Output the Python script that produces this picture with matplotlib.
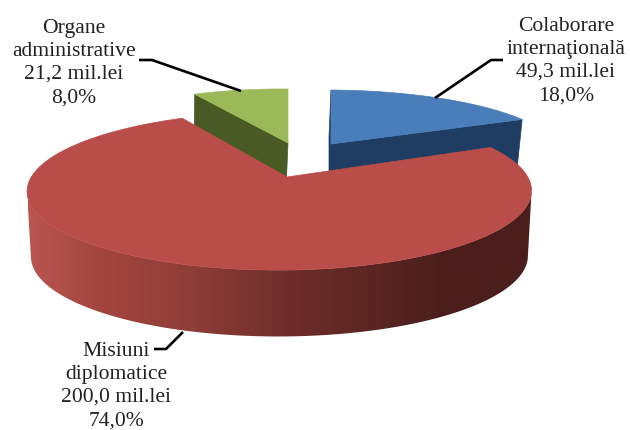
import numpy as np
import matplotlib
matplotlib.use("Agg")
import matplotlib.pyplot as plt
from matplotlib.colors import LinearSegmentedColormap
from matplotlib.patches import Polygon

# --- data ---
categories = ["Colaborare\ninternaţională", "Misiuni\ndiplomatice", "Organe\nadministrative"]
amounts = ["49,3", "200,0", "21,2"]
percents = [18.0, 74.0, 8.0]

# --- style / projection ---
top_colors = ["#4a7ebb", "#b94d49", "#9bb958"]
wall_colors = ["#1f3d63", "#8a3a36", "#4a5a25"]
# apex x, apex y, Rx, Ry, depth, bottom scale, bottom apex dx
proj = [
    (331, 144, 233, 63.6, 47, 0.985, -2),
    (287, 177, 248, 76.5, 65, 0.985, 0),
    (288, 143, 221, 63.6, 47, 0.985, -2),
]
K, M = 0.178, 0.03
BOTTOM_RY = 1.03
red_wall = LinearSegmentedColormap.from_list(
    "w", [(0, "#ba5550"), (0.14, "#a4463f"), (0.34, "#8c3c36"), (0.52, "#6e2d2a"),
          (0.74, "#552321"), (0.82, "#4b1e1c"), (1, "#4b1e1c")])

fig = plt.figure(figsize=(6.3, 4.3), dpi=100, facecolor="white")
ax = fig.add_axes([0, 0, 1, 1])


def project(theta, p, bottom=False):
    cx, cy, rx, ry, d, s, dx = p
    u, v = np.sin(theta), np.cos(theta)
    f = 1.0 / (1 + K * v + M * u)
    if bottom:
        return cx + dx + s * rx * u * f, cy + d - BOTTOM_RY * s * ry * v * f
    return cx + rx * u * f, cy - ry * v * f


edges = np.concatenate([[0], np.cumsum(percents)]) / sum(percents) * 2 * np.pi
order = [0, 2, 1]
for i in order:
    p = proj[i]
    a0, a1 = edges[i], edges[i + 1]
    th = np.linspace(a0, a1, 361)
    apex_t = (p[0], p[1])
    apex_b = (p[0] + p[6], p[1] + p[4])
    if i == 0:
        ax.add_patch(Polygon([apex_t, project(a1, p), project(a1, p, True), apex_b],
                             fc=wall_colors[i], ec=wall_colors[i], lw=0.5))
        ax.add_patch(Polygon([project(a0, p), apex_t, apex_b, project(a0, p, True)],
                             fc=wall_colors[i], ec=wall_colors[i], lw=0.5))
    if i == 2:
        ax.add_patch(Polygon([apex_t, project(a0, p), project(a0, p, True), apex_b],
                             fc=wall_colors[i], ec=wall_colors[i], lw=0.5))
    if i == 1:
        # front part of the rim only: between the outermost points of the top arc
        xs = np.array([project(t, p)[0] for t in th])
        front = th[int(np.argmax(xs)):int(np.argmin(xs)) + 1]
        ring = [project(t, p) for t in front] + [project(t, p, True) for t in front[::-1]]
        wall = Polygon(ring, fc="none", ec="none", transform=ax.transData)
        ax.add_patch(wall)
        im = ax.imshow(np.linspace(0, 1, 512)[None, :], cmap=red_wall, aspect="auto",
                       extent=(28, 532, 345, 100), zorder=1.0, interpolation="bilinear")
        im.set_clip_path(wall)
    outline = [apex_t] + [project(t, p) for t in th]
    ax.add_patch(Polygon(outline, fc=top_colors[i], ec=top_colors[i], lw=0.5, zorder=1.5))

ax.set_xlim(0, 630)
ax.set_ylim(430, 0)
ax.axis("off")

# leaders
lk = dict(color="black", lw=1.9, solid_capstyle="butt", zorder=3)
ax.plot([435, 491, 503], [98, 60, 60], **lk)
ax.plot([241, 152, 139], [91, 60, 60], **lk)
ax.plot([183, 166, 154], [332, 349, 349], **lk)

# labels
label_pos = [(566, 61), (116, 386), (74, 63)]
for cat, amt, pct, (x, y) in zip(categories, amounts, percents, label_pos):
    text = f"{cat}\n{amt} mil.lei\n{str(pct).replace('.', ',')}%"
    ax.text(x, y, text, ha="center", va="center", family="Liberation Serif",
            fontsize=15.6, linespacing=1.29, color="#222222", zorder=4)

fig.savefig("out.png", dpi=100, facecolor="white")
